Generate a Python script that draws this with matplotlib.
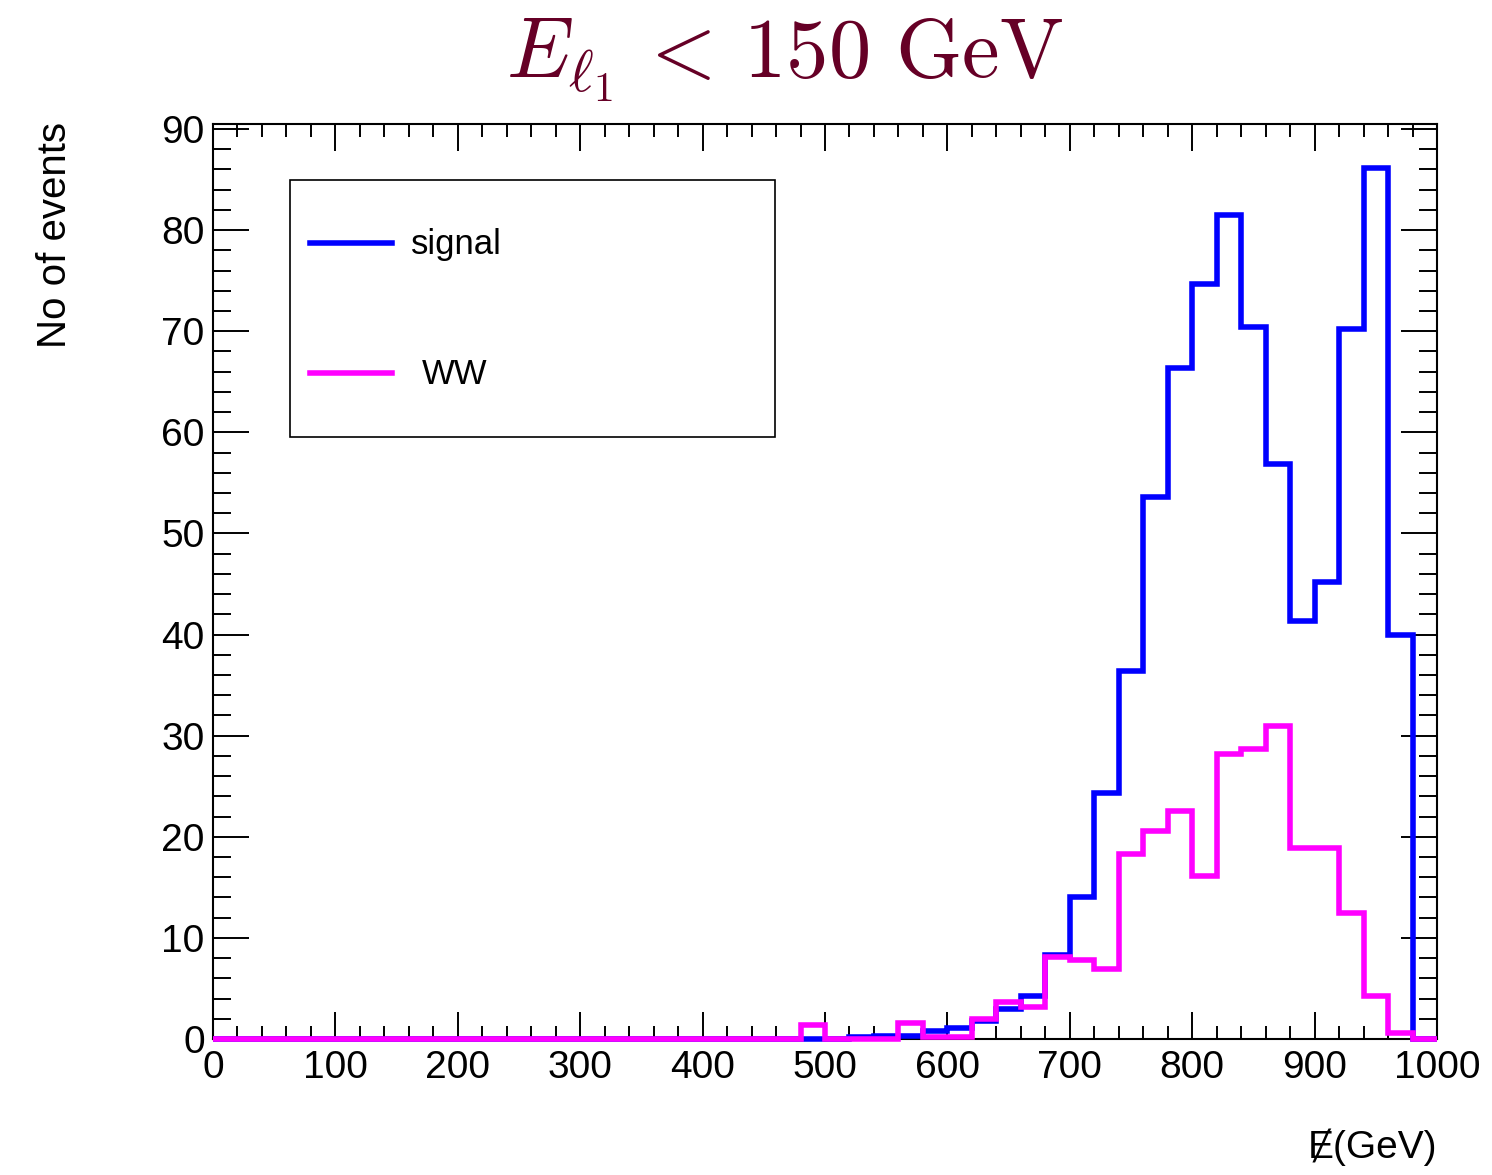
import numpy as np
import matplotlib.pyplot as plt
from matplotlib.patches import Rectangle
from matplotlib.lines import Line2D
from matplotlib.ticker import MultipleLocator

plt.rcParams['font.family'] = ['Liberation Sans', 'DejaVu Sans']
plt.rcParams['mathtext.fontset'] = 'cm'

edges = np.arange(0, 1001, 20)

# events per 20 GeV bin, 0..1000 GeV
signal = [0] * 24 + [0, 0, 0.2, 0.3, 0.3, 0.8, 1.1, 1.8, 3.0, 4.3,
                     8.3, 14.0, 24.3, 36.4, 53.6, 66.4, 74.7, 81.5, 70.4, 56.9,
                     41.3, 45.2, 70.2, 86.1, 40.0, 0]
ww = [0] * 24 + [1.4, 0, 0, 0, 1.6, 0.2, 0.2, 2.0, 3.7, 3.2,
                 8.1, 7.8, 6.9, 18.3, 20.6, 22.6, 16.1, 28.2, 28.7, 31.0,
                 18.9, 18.9, 12.5, 4.3, 0.6, 0]

W, H = 1492, 1175
fig = plt.figure(figsize=(W / 100, H / 100), dpi=100)
ax = fig.add_axes([213 / W, (H - 1039) / H, 1224 / W, 915 / H])

ax.stairs(signal, edges, color='#0000ff', lw=4.0, baseline=None, zorder=3, clip_on=False)
ax.stairs(ww, edges, color='#ff00ff', lw=4.0, baseline=None, zorder=4, clip_on=False)

ax.set_xlim(0, 1000)
ax.set_ylim(0, 90.5)
ax.xaxis.set_major_locator(MultipleLocator(100))
ax.xaxis.set_minor_locator(MultipleLocator(20))
ax.yaxis.set_major_locator(MultipleLocator(10))
ax.yaxis.set_minor_locator(MultipleLocator(2))
for s in ax.spines.values():
    s.set_linewidth(1.5)
ax.tick_params(which='both', direction='in', top=True, right=True, width=1.4, labelsize=28)
ax.tick_params(axis='x', which='major', length=19.5, pad=8)
ax.tick_params(axis='x', which='minor', length=9.5)
ax.tick_params(axis='y', which='major', length=26, pad=6)
ax.tick_params(axis='y', which='minor', length=13)

# legend box
ax.add_patch(Rectangle((0.0629, 0.658), 0.3963, 0.2808, transform=ax.transAxes,
                       fill=False, ec='black', lw=1.2, zorder=5))
ax.add_line(Line2D([0.0792, 0.1462], [0.870, 0.870], transform=ax.transAxes,
                   color='#0000ff', lw=4.0))
ax.add_line(Line2D([0.0792, 0.1462], [0.728, 0.728], transform=ax.transAxes,
                   color='#ff00ff', lw=4.0))
ax.text(0.1618, 0.868, 'signal', transform=ax.transAxes, fontsize=25, va='center')
ax.text(0.1708, 0.726, 'WW', transform=ax.transAxes, fontsize=25, va='center')

fig.text(785 / W, 1 - 78 / H, r'$E_{\ell_1}\, <\, 150\ \mathrm{GeV}$',
         ha='center', va='baseline', fontsize=61, color='#660026')
fig.text(55 / W, 1 - 122 / H, 'No of events', rotation=90, ha='center', va='top', fontsize=29)

# missing energy (slashed E)
fig.text(1437 / W, 1 - 1158 / H, '\u0246(GeV)', ha='right', va='baseline', fontsize=28)

plt.savefig('out.png', dpi=100)
